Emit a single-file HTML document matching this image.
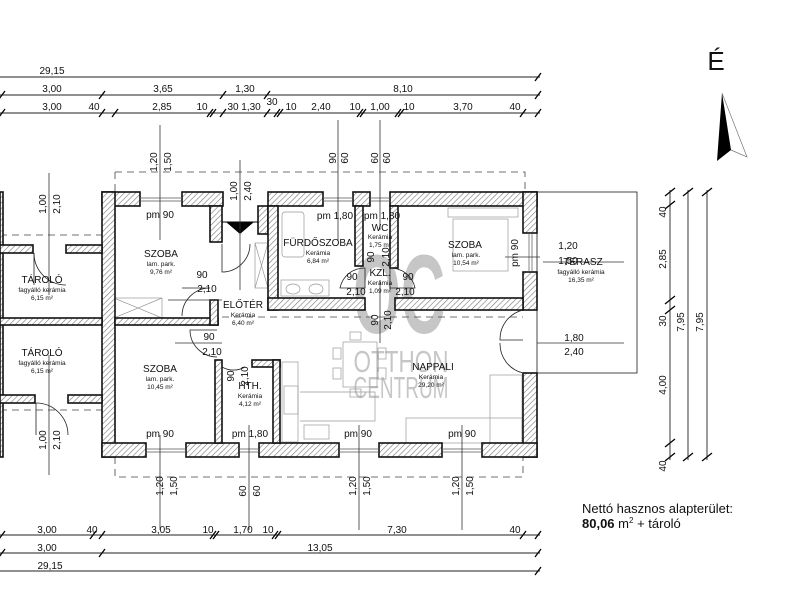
<!DOCTYPE html>
<html><head><meta charset="utf-8"><style>
html,body{margin:0;padding:0;background:#fff;}
svg{display:block;font-family:"Liberation Sans",sans-serif;}
</style></head><body>
<svg width="800" height="616" viewBox="0 0 800 616" xmlns="http://www.w3.org/2000/svg">
<defs>
<pattern id="h" width="4" height="4" patternUnits="userSpaceOnUse" patternTransform="rotate(45)">
<rect width="4" height="4" fill="#fff"/><line x1="0" y1="0" x2="0" y2="4" stroke="#777" stroke-width="1.2"/>
</pattern>
</defs>
<rect width="800" height="616" fill="#fff"/>

<!-- watermark -->
<g fill="#bdbdbd" opacity="0.85">
<text x="399" y="333" font-size="112" font-weight="bold" text-anchor="middle" textLength="92" lengthAdjust="spacingAndGlyphs">OC</text>
<text x="401" y="372" font-size="31" text-anchor="middle" textLength="95" lengthAdjust="spacingAndGlyphs">OTTHON</text>
<text x="401" y="398" font-size="31" text-anchor="middle" textLength="95" lengthAdjust="spacingAndGlyphs">CENTRUM</text>
</g>

<!-- top dimension lines -->
<g stroke="#222" stroke-width="1" fill="none">
<line x1="0" y1="77" x2="540" y2="77"/>
<line x1="0" y1="95" x2="540" y2="95"/>
<line x1="0" y1="113" x2="540" y2="113"/>
<line x1="0" y1="535" x2="540" y2="535"/>
<line x1="0" y1="553" x2="540" y2="553"/>
<line x1="0" y1="571" x2="540" y2="571"/>
</g>
<g stroke="#000" stroke-width="1.3">
<path d="M535 81 L541 73 M-1 99 L5 91 M99 99 L105 91 M220 99 L226 91 M264 99 L270 91 M535 99 L541 91
M-1 117 L5 109 M99 117 L105 109 M112 117 L118 109 M207 117 L213 109 M210 117 L216 109 M220 117 L226 109 M264 117 L270 109 M274 117 L280 109 M277 117 L283 109 M357 117 L363 109 M360 117 L366 109 M395 117 L401 109 M398 117 L404 109 M520 117 L526 109 M535 117 L541 109
M-1 539 L5 531 M90 539 L96 531 M99 539 L105 531 M210 539 L216 531 M213 539 L219 531 M272 539 L278 531 M275 539 L281 531 M520 539 L526 531 M535 539 L541 531
M-1 557 L5 549 M99 557 L105 549 M535 557 L541 549
M535 575 L541 567"/>
</g>
<g font-size="10" fill="#111" text-anchor="middle">
<text x="52" y="74">29,15</text>
<text x="52" y="92">3,00</text><text x="163" y="92">3,65</text><text x="245" y="92">1,30</text><text x="403" y="92">8,10</text>
<text x="272" y="105">30</text>
<text x="52" y="110">3,00</text><text x="94" y="110">40</text><text x="162" y="110">2,85</text><text x="202" y="110">10</text><text x="233" y="110">30</text><text x="251" y="110">1,30</text><text x="291" y="110">10</text><text x="321" y="110">2,40</text><text x="355" y="110">10</text><text x="380" y="110">1,00</text><text x="409" y="110">10</text><text x="463" y="110">3,70</text><text x="515" y="110">40</text>
<text x="47" y="533">3,00</text><text x="92" y="533">40</text><text x="161" y="533">3,05</text><text x="208" y="533">10</text><text x="243" y="533">1,70</text><text x="268" y="533">10</text><text x="397" y="533">7,30</text><text x="515" y="533">40</text>
<text x="47" y="551">3,00</text><text x="320" y="551">13,05</text>
<text x="50" y="569">29,15</text>
</g>

<!-- dashed lines -->
<g stroke="#444" stroke-width="0.8" stroke-dasharray="7,5" fill="none">
<path d="M115 172 L525 172 L525 192"/>
<path d="M115 172 L115 192"/>
<path d="M115 457 L115 477 L523 477 L523 457"/>
<line x1="0" y1="235" x2="102" y2="235"/>
<line x1="0" y1="410" x2="102" y2="410"/>
<line x1="222" y1="317" x2="523" y2="317"/>
</g>

<!-- terrace -->
<rect x="537" y="192" width="100" height="181" fill="none" stroke="#333" stroke-width="0.9"/>

<!-- furniture light -->
<g stroke="#999" stroke-width="0.7" fill="none">
<rect x="448" y="208" width="70" height="9"/>
<rect x="453" y="219" width="55" height="52"/>
<rect x="282" y="212" width="22" height="45" rx="3"/>
<rect x="281" y="280" width="48" height="16"/>
<ellipse cx="293" cy="289" rx="7" ry="5"/><ellipse cx="316" cy="289" rx="7" ry="5"/>
<rect x="114" y="298" width="48" height="20"/><path d="M114 298 L162 318 M162 298 L114 318"/>
<rect x="255" y="243" width="13" height="45"/><path d="M255 243 L268 288 M268 243 L255 288"/>
<rect x="282" y="362" width="16" height="80"/><rect x="284" y="386" width="14" height="28"/>
<rect x="304" y="425" width="25" height="14"/>
<rect x="343" y="342" width="34" height="45"/>
<rect x="350" y="332" width="11" height="8"/><rect x="350" y="389" width="11" height="8"/>
<rect x="333" y="348" width="8" height="11"/><rect x="333" y="368" width="8" height="11"/>
<rect x="378" y="348" width="8" height="11"/><rect x="378" y="368" width="8" height="11"/>
<rect x="406" y="418" width="116" height="25"/><rect x="490" y="375" width="32" height="68"/>
<path d="M300 421 L375 421 L375 392 L300 392"/>
</g>

<!-- walls -->
<g fill="url(#h)" stroke="#111" stroke-width="1.6">
<rect x="102" y="192" width="38" height="14"/>
<rect x="182" y="192" width="41" height="14"/>
<rect x="268" y="192" width="55" height="14"/>
<rect x="353" y="192" width="17" height="14"/>
<rect x="390" y="192" width="147" height="14"/>
<rect x="102" y="192" width="13" height="265"/>
<rect x="523" y="192" width="14" height="41"/>
<rect x="523" y="272" width="14" height="38"/>
<rect x="523" y="373" width="14" height="84"/>
<rect x="102" y="443" width="44" height="14"/>
<rect x="186" y="443" width="53" height="14"/>
<rect x="259" y="443" width="80" height="14"/>
<rect x="379" y="443" width="63" height="14"/>
<rect x="482" y="443" width="55" height="14"/>
<rect x="210" y="206" width="12" height="36"/>
<rect x="258" y="206" width="10" height="28"/>
<rect x="268" y="206" width="10" height="104"/>
<rect x="268" y="298" width="97" height="12"/>
<rect x="395" y="298" width="128" height="12"/>
<rect x="355" y="206" width="8" height="60"/>
<rect x="390" y="206" width="8" height="62"/>
<rect x="115" y="318" width="103" height="7"/>
<rect x="210" y="300" width="8" height="25"/>
<rect x="215" y="360" width="7" height="83"/>
<rect x="252" y="360" width="28" height="7"/>
<rect x="273" y="360" width="7" height="83"/>
<rect x="0" y="192" width="3" height="265"/>
<rect x="0" y="245" width="33" height="8"/>
<rect x="66" y="245" width="36" height="8"/>
<rect x="0" y="318" width="102" height="7"/>
<rect x="0" y="395" width="35" height="8"/>
<rect x="68" y="395" width="34" height="8"/>
</g>
<g stroke="#555" stroke-width="0.7">
<path d="M140 198 H182 M140 201 H182 M323 198 H353 M323 201 H353 M370 198 H390 M370 201 H390 M529 233 V272 M532 233 V272 M146 449 H186 M146 452 H186 M239 449 H259 M239 452 H259 M339 449 H379 M339 452 H379 M442 449 H482 M442 452 H482"/>
</g>

<!-- doors -->
<g stroke="#222" stroke-width="0.8" fill="none">
<path d="M222 244 L222 272 A28 28 0 0 0 250 244"/>
<path d="M182 288 L210 288 A28 28 0 0 0 182 316"/>
<path d="M365 288 L365 268 A25 25 0 0 0 340 288 Z" />
<path d="M390 288 L390 268 A25 25 0 0 1 415 288 Z"/>
<path d="M217 330 L190 330 A27 27 0 0 0 217 357"/>
<path d="M222 390 L222 367 A23 23 0 0 0 245 367"/>
<path d="M523 310 A30 30 0 0 0 500 340 L523 340 M523 373 A30 30 0 0 1 500 343"/>
<path d="M34 253 A32 32 0 0 0 66 285 M36 403 A32 32 0 0 1 68 435"/>
<line x1="34" y1="253" x2="34" y2="285"/><line x1="36" y1="403" x2="36" y2="435"/>
</g>
<polygon points="226,222 254,222 240,234" fill="#000"/>
<line x1="222" y1="222" x2="258" y2="222" stroke="#000" stroke-width="1"/>

<g stroke="#333" stroke-width="0.8">
<line x1="160" y1="125" x2="160" y2="240"/>
<line x1="240" y1="160" x2="240" y2="290"/>
<line x1="338" y1="120" x2="338" y2="240"/>
<line x1="380" y1="120" x2="380" y2="230"/>
<line x1="49" y1="173" x2="49" y2="295"/>
<line x1="49" y1="355" x2="49" y2="475"/>
<line x1="160" y1="435" x2="160" y2="530"/>
<line x1="249" y1="425" x2="249" y2="530"/>
<line x1="359" y1="425" x2="359" y2="530"/>
<line x1="462" y1="425" x2="462" y2="530"/>
<line x1="380" y1="280" x2="380" y2="343"/>
<line x1="543" y1="262" x2="624" y2="262"/>
<line x1="537" y1="343" x2="624" y2="343"/>
<line x1="505" y1="257" x2="540" y2="257"/>
<line x1="168" y1="300" x2="222" y2="300"/>
<line x1="175" y1="343" x2="222" y2="343"/>
</g>

<g font-size="10" fill="#111" text-anchor="middle">
<text transform="translate(157,162) rotate(-90)">1,20</text><text transform="translate(171,162) rotate(-90)">1,50</text>
<text transform="translate(237,191) rotate(-90)">1,00</text><text transform="translate(251,191) rotate(-90)">2,40</text>
<text transform="translate(336,158) rotate(-90)">90</text><text transform="translate(348,158) rotate(-90)">60</text>
<text transform="translate(378,158) rotate(-90)">60</text><text transform="translate(390,158) rotate(-90)">60</text>
<text transform="translate(46,204) rotate(-90)">1,00</text><text transform="translate(60,204) rotate(-90)">2,10</text>
<text transform="translate(46,440) rotate(-90)">1,00</text><text transform="translate(60,440) rotate(-90)">2,10</text>
<text transform="translate(163,486) rotate(-90)">1,20</text><text transform="translate(177,486) rotate(-90)">1,50</text>
<text transform="translate(246,491) rotate(-90)">60</text><text transform="translate(260,491) rotate(-90)">60</text>
<text transform="translate(356,486) rotate(-90)">1,20</text><text transform="translate(370,486) rotate(-90)">1,50</text>
<text transform="translate(459,486) rotate(-90)">1,20</text><text transform="translate(473,486) rotate(-90)">1,50</text>
<text transform="translate(374,257) rotate(-90)">90</text><text transform="translate(389,257) rotate(-90)">2,10</text>
<text transform="translate(378,320) rotate(-90)">90</text><text transform="translate(391,320) rotate(-90)">2,10</text>
<text transform="translate(234,376) rotate(-90)">90</text><text transform="translate(248,376) rotate(-90)">2,10</text>
<text transform="translate(518,253) rotate(-90)">pm 90</text>
</g>

<g font-size="10" fill="#111" text-anchor="middle">
<text x="160" y="218">pm 90</text>
<text x="335" y="219">pm 1,80</text><text x="382" y="219">pm 1,80</text>
<text x="202" y="278">90</text><text x="207" y="292">2,10</text>
<text x="352" y="280">90</text><text x="356" y="295">2,10</text>
<text x="408" y="280">90</text><text x="405" y="295">2,10</text>
<text x="209" y="340">90</text><text x="212" y="355">2,10</text>
<text x="160" y="437">pm 90</text><text x="250" y="437">pm 1,80</text>
<text x="358" y="437">pm 90</text><text x="462" y="437">pm 90</text>
<text x="568" y="249">1,20</text><text x="568" y="264">1,50</text>
<text x="574" y="341">1,80</text><text x="574" y="355">2,40</text>
</g>

<g fill="#111" text-anchor="middle">
<g font-size="10">
<text x="161" y="257">SZOBA</text><text x="42" y="283">TÁROLÓ</text><text x="465" y="248">SZOBA</text>
<text x="318" y="246">FÜRDŐSZOBA</text><text x="380" y="231">WC</text><text x="380" y="276">KZL.</text>
<text x="243" y="308">ELŐTÉR</text><text x="42" y="356">TÁROLÓ</text><text x="160" y="372">SZOBA</text>
<text x="250" y="389">HTH.</text><text x="433" y="370">NAPPALI</text><text x="583" y="265">TERASZ</text>
</g>
<g font-size="6.5">
<text x="161" y="266">lam. park.</text><text x="161" y="274">9,76 m²</text>
<text x="42" y="292">fagyálló kerámia</text><text x="42" y="300">6,15 m²</text>
<text x="466" y="257">lam. park.</text><text x="466" y="265">10,54 m²</text>
<text x="318" y="255">Kerámia</text><text x="318" y="263">6,84 m²</text>
<text x="380" y="239">Kerámia</text><text x="380" y="247">1,75 m²</text>
<text x="380" y="285">Kerámia</text><text x="380" y="293">1,09 m²</text>
<text x="243" y="317">Kerámia</text><text x="243" y="325">6,40 m²</text>
<text x="42" y="365">fagyálló kerámia</text><text x="42" y="373">6,15 m²</text>
<text x="160" y="381">lam. park.</text><text x="160" y="389">10,45 m²</text>
<text x="250" y="398">Kerámia</text><text x="250" y="406">4,12 m²</text>
<text x="431" y="379">Kerámia</text><text x="431" y="387">29,20 m²</text>
<text x="581" y="274">fagyálló kerámia</text><text x="581" y="282">16,35 m²</text>
</g>
</g>

<g stroke="#222" stroke-width="0.9">
<line x1="670" y1="190" x2="670" y2="460"/>
<line x1="688" y1="190" x2="688" y2="460"/>
<line x1="707" y1="190" x2="707" y2="460"/>
</g>
<g stroke="#000" stroke-width="1.3">
<path d="M665 196 L675 188 M665 209 L675 201 M665 304 L675 296 M665 314 L675 306 M665 447 L675 439 M665 461 L675 453
M683 196 L693 188 M683 461 L693 453 M702 196 L712 188 M702 461 L712 453"/>
</g>
<g font-size="10" fill="#111" text-anchor="middle">
<text transform="translate(666,212) rotate(-90)">40</text>
<text transform="translate(666,259) rotate(-90)">2,85</text>
<text transform="translate(666,321) rotate(-90)">30</text>
<text transform="translate(666,385) rotate(-90)">4,00</text>
<text transform="translate(666,466) rotate(-90)">40</text>
<text transform="translate(684,322) rotate(-90)">7,95</text>
<text transform="translate(703,322) rotate(-90)">7,95</text>
</g>

<text x="716" y="70" font-size="26" text-anchor="middle" fill="#111">É</text>
<polygon points="722,93 717,161 731,150" fill="#000"/>
<polyline points="722,93 747,157 731,150" fill="none" stroke="#777" stroke-width="0.7"/>

<text x="582" y="513" font-size="13" fill="#111">Nettó hasznos alapterület:</text>
<text x="582" y="528" font-size="13" fill="#111"><tspan font-weight="bold">80,06</tspan> m<tspan font-size="8" dy="-5">2</tspan><tspan dy="5"> + tároló</tspan></text>
</svg>
</body></html>
